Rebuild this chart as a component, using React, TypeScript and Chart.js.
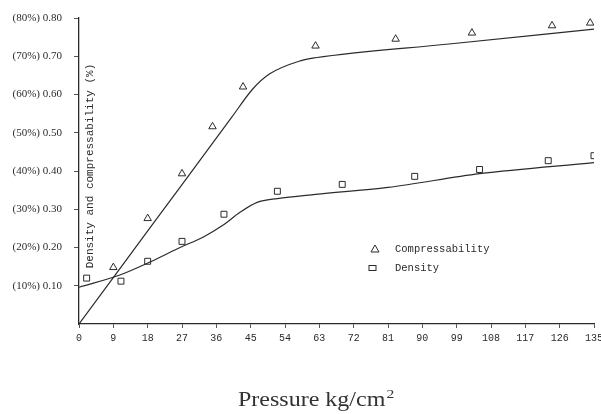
import { useEffect, useRef } from 'react';
import { Chart, registerables } from 'chart.js';

Chart.register(...registerables);

// ---- data ----
const xTicks = [0, 9, 18, 27, 36, 45, 54, 63, 72, 81, 90, 99, 108, 117, 126, 135];
const yTicks = [0.1, 0.2, 0.3, 0.4, 0.5, 0.6, 0.7, 0.8];
const yTickLabels = ['(10%) 0.10', '(20%) 0.20', '(30%) 0.30', '(40%) 0.40', '(50%) 0.50', '(60%) 0.60', '(70%) 0.70', '(80%) 0.80'];

const seriesNames = ['Compressability', 'Density'];

// measured points
const compX = [9, 18, 27, 35, 43, 62, 83, 103, 124, 134];
const compY = [0.148, 0.276, 0.393, 0.516, 0.62, 0.727, 0.745, 0.761, 0.78, 0.787];
const densX = [2, 11, 18, 27, 38, 52, 69, 88, 105, 123, 135];
const densY = [0.12, 0.112, 0.164, 0.216, 0.287, 0.347, 0.365, 0.386, 0.404, 0.427, 0.44];

// fitted curves
const compFitX = [0, 20, 40, 45.6, 50, 58, 62, 97, 135];
const compFitY = [0, 0.27, 0.54, 0.615, 0.654, 0.688, 0.696, 0.732, 0.771];
const densFitX = [0, 10.7, 18.6, 26.5, 32.5, 37.7, 42.2, 46.7, 52, 62, 81, 105, 135];
const densFitY = [0.096, 0.128, 0.162, 0.2, 0.227, 0.258, 0.292, 0.318, 0.328, 0.339, 0.357, 0.393, 0.422];

const yTitle = 'Density and compressability (%)';
const xTitle = 'Pressure kg/cm';
const xTitleSup = '2';

const INK = '#2b2b2b';

const zip = (xs: number[], ys: number[]) => xs.map((x, i) => ({ x, y: ys[i] }));

const overlayPlugin = {
  id: 'overlay',
  afterDraw(chart: any) {
    const { ctx, chartArea } = chart;
    ctx.save();
    ctx.fillStyle = INK;
    // y-axis title (inside plot area, rotated)
    ctx.save();
    ctx.translate(chartArea.left + 11, 166);
    ctx.rotate(-Math.PI / 2);
    ctx.font = '11px "Liberation Mono"';
    ctx.textAlign = 'center';
    ctx.textBaseline = 'middle';
    ctx.fillText(yTitle, 0, 0);
    ctx.restore();

    // legend
    ctx.strokeStyle = INK;
    ctx.lineWidth = 1;
    ctx.font = '10.5px "Liberation Mono"';
    ctx.textAlign = 'left';
    ctx.textBaseline = 'middle';
    const lx = 375;
    const ly1 = 249;
    const ly2 = 268;
    ctx.beginPath();
    ctx.moveTo(lx, ly1 - 4);
    ctx.lineTo(lx + 4, ly1 + 3);
    ctx.lineTo(lx - 4, ly1 + 3);
    ctx.closePath();
    ctx.stroke();
    ctx.fillText(seriesNames[0], 395, ly1);
    ctx.strokeRect(lx - 6, ly2 - 2.5, 7, 5);
    ctx.fillText(seriesNames[1], 395, ly2);

    // x-axis title
    ctx.save();
    ctx.translate(238, 406);
    ctx.scale(1.2, 1);
    ctx.font = '20px "Liberation Serif"';
    ctx.textBaseline = 'alphabetic';
    ctx.textAlign = 'left';
    ctx.fillStyle = '#333';
    ctx.fillText(xTitle, 0, 0);
    const w = ctx.measureText(xTitle).width;
    ctx.font = '13px "Liberation Serif"';
    ctx.fillText(xTitleSup, w + 1, -8);
    ctx.restore();

    ctx.restore();
  },
};

export default function App() {
  const ref = useRef<HTMLCanvasElement | null>(null);
  useEffect(() => {
    if (!ref.current) return;
    const chart = new Chart(ref.current, {
      type: 'scatter',
      data: {
        datasets: [
          {
            label: seriesNames[0] + ' fit',
            data: zip(compFitX, compFitY),
            showLine: true,
            borderColor: INK,
            borderWidth: 1.2,
            pointRadius: 0,
            cubicInterpolationMode: 'monotone',
          } as any,
          {
            label: seriesNames[1] + ' fit',
            data: zip(densFitX, densFitY),
            showLine: true,
            borderColor: INK,
            borderWidth: 1.2,
            pointRadius: 0,
            cubicInterpolationMode: 'monotone',
          } as any,
          {
            label: seriesNames[0],
            data: zip(compX, compY),
            pointStyle: 'triangle',
            pointRadius: 4.3,
            borderColor: INK,
            borderWidth: 1,
            backgroundColor: 'rgba(255,255,255,0)',
          },
          {
            label: seriesNames[1],
            data: zip(densX, densY),
            pointStyle: 'rect',
            pointRadius: 4.2,
            borderColor: INK,
            borderWidth: 1,
            backgroundColor: 'rgba(255,255,255,0)',
          },
        ],
      },
      options: {
        responsive: false,
        animation: false,
        layout: { padding: { left: 0, right: 7, top: 18, bottom: 0 }, autoPadding: false } as any,
        plugins: { legend: { display: false }, tooltip: { enabled: false } },
        scales: {
          x: {
            type: 'linear',
            min: 0,
            max: 135,
            afterBuildTicks: (s: any) => {
              s.ticks = xTicks.map((v) => ({ value: v }));
            },
            afterFit: (s: any) => {
              s.height = 90;
              s.paddingLeft = 0;
              s.paddingRight = 0;
            },
            ticks: {
              font: { family: 'Liberation Mono', size: 10 },
              color: INK,
              padding: 4,
              maxRotation: 0,
              autoSkip: false,
            },
            grid: { drawOnChartArea: false, tickLength: 4, color: '#555' },
            border: { color: INK, width: 1.3 },
          },
          y: {
            type: 'linear',
            min: 0,
            max: 0.8,
            afterBuildTicks: (s: any) => {
              s.ticks = yTicks.map((v) => ({ value: v }));
            },
            afterFit: (s: any) => {
              s.width = 79;
              s.paddingTop = 0;
              s.paddingBottom = 0;
            },
            ticks: {
              font: { family: 'Liberation Serif', size: 11 },
              color: INK,
              padding: 12,
              callback: (v: any) => {
                const i = yTicks.findIndex((t) => Math.abs(t - Number(v)) < 1e-6);
                return i >= 0 ? yTickLabels[i] : '';
              },
            },
            grid: { drawOnChartArea: false, tickLength: 5, color: '#555' },
            border: { color: INK, width: 1.3 },
          },
        },
      },
      plugins: [overlayPlugin],
    });
    return () => chart.destroy();
  }, []);

  return (
    <div style={{ position: 'fixed', left: 0, top: 0, width: 601, height: 414, background: '#fff' }}>
      <canvas ref={ref} width={601} height={414} style={{ display: 'block' }} />
    </div>
  );
}
